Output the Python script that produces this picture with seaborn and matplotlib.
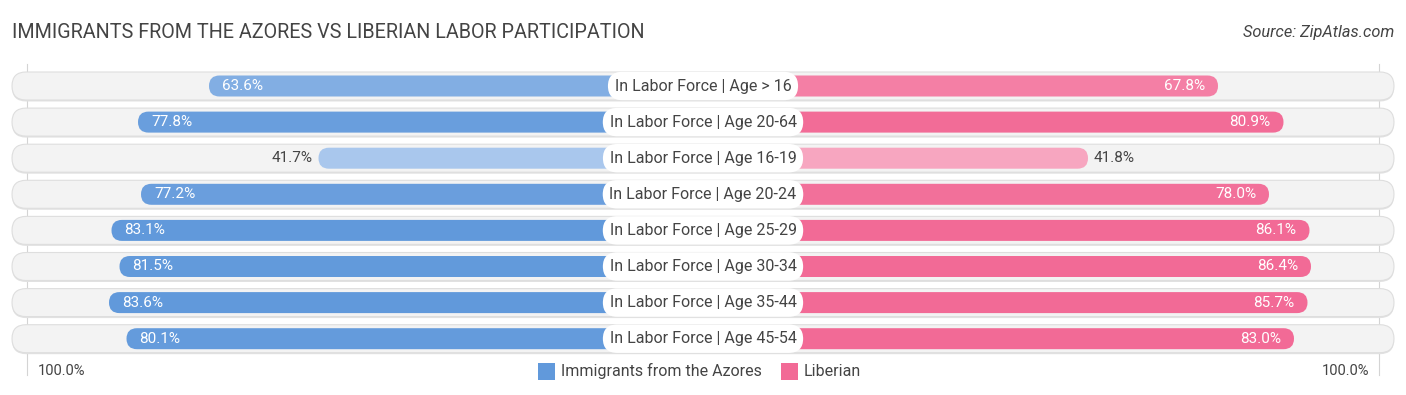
import numpy as np
import pandas as pd
import matplotlib
matplotlib.use("Agg")
import matplotlib.pyplot as plt
import seaborn as sns
from matplotlib.patches import FancyBboxPatch, Rectangle
from matplotlib.colors import to_rgb

# ==========================================
# Data
# ==========================================
categories = [
    "In Labor Force | Age > 16",
    "In Labor Force | Age 20-64",
    "In Labor Force | Age 16-19",
    "In Labor Force | Age 20-24",
    "In Labor Force | Age 25-29",
    "In Labor Force | Age 30-34",
    "In Labor Force | Age 35-44",
    "In Labor Force | Age 45-54",
]
azores = [63.6, 77.8, 41.7, 77.2, 83.1, 81.5, 83.6, 80.1]
liberian = [67.8, 80.9, 41.8, 78.0, 86.1, 86.4, 85.7, 83.0]
series_names = ["Immigrants from the Azores", "Liberian"]

# ==========================================
# Layout / style
# ==========================================
W, H = 1406, 395
PX = 5.0              # pixels per percent
OFFSET = 176 / PX     # bars start behind the centre label
ROW_PX = 36.1
Y0_PX = 86
BLUE_STRONG, BLUE_LIGHT = "#6199db", "#acc9ee"
PINK_STRONG, PINK_LIGHT = "#f26a96", "#f7a9c2"
TEXT = "#444444"

def shade(v, strong, light):
    t = np.clip((v - 40) / 42.0, 0, 1)
    s, l = np.array(to_rgb(strong)), np.array(to_rgb(light))
    return tuple(l + t * (s - l))

plt.rcParams["font.family"] = ["Roboto", "DejaVu Sans"]

fig = plt.figure(figsize=(W / 100, H / 100), dpi=100)
ax = fig.add_axes([0, 0, 1, 1])
xmax = (W / 2) / PX
ylim = ((H - Y0_PX) / ROW_PX, -Y0_PX / ROW_PX)

# mutation aspect so rounded corners are circular in pixels
asp = PX / ROW_PX

df = pd.DataFrame({
    "cat": categories * 2,
    "val": [-(OFFSET + v) for v in azores] + [OFFSET + v for v in liberian],
    "side": ["left"] * len(categories) + ["right"] * len(categories),
})

sns.barplot(data=df, x="val", y="cat", hue="side", orient="h", dodge=False,
            width=21 / ROW_PX, legend=False, ax=ax, zorder=2)
ax.set_xlim(-xmax, xmax)
ax.set_ylim(*ylim)
ax.axis("off")

# replace square bars with rounded ones
for p in list(ax.patches):
    x, y = p.get_x(), p.get_y()
    w, h = p.get_width(), p.get_height()
    p.remove()
    if w == 0 or np.isnan(w):
        continue
    row = int(round(y + h / 2))
    if x < 0 or w < 0:
        left = min(x, x + w)
        col = shade(azores[row], BLUE_STRONG, BLUE_LIGHT)
    else:
        left = x
        col = shade(liberian[row], PINK_STRONG, PINK_LIGHT)
    ax.add_patch(FancyBboxPatch((left, y), abs(w), h,
                                boxstyle=f"round,pad=0,rounding_size={10.5 / PX}",
                                mutation_aspect=asp, fc=col, ec="none", zorder=2))

# background tracks (with a faint shadow)
track_half = (W / 2 - 12) / PX
track_h = 28 / ROW_PX
for i in range(len(categories)):
    ax.add_patch(FancyBboxPatch((-track_half, i - track_h / 2 + 1.5 / ROW_PX), 2 * track_half, track_h,
                                boxstyle=f"round,pad=0,rounding_size={14 / PX}",
                                mutation_aspect=asp, fc="#e2e2e2", ec="none", zorder=0.8))
    ax.add_patch(FancyBboxPatch((-track_half, i - track_h / 2), 2 * track_half, track_h,
                                boxstyle=f"round,pad=0,rounding_size={14 / PX}",
                                mutation_aspect=asp, fc="#f3f3f3", ec="#dedede",
                                lw=0.8, zorder=1))

# faint 100% guide lines
for sgn in (-1, 1):
    ax.plot([sgn * (OFFSET + 100)] * 2, [-0.6, 8.0], color="#d4d4d4", lw=0.8, zorder=0.5)

# value labels
for i, (a, b) in enumerate(zip(azores, liberian)):
    if a > 55:
        ax.text(-(OFFSET + a) + 13 / PX, i, f"{a:.1f}%", ha="left", va="center",
                color="white", fontsize=11, zorder=4)
    else:
        ax.text(-(OFFSET + a) - 6 / PX, i, f"{a:.1f}%", ha="right", va="center",
                color=TEXT, fontsize=11, zorder=4)
    if b > 55:
        ax.text((OFFSET + b) - 13 / PX, i, f"{b:.1f}%", ha="right", va="center",
                color="white", fontsize=11, zorder=4)
    else:
        ax.text((OFFSET + b) + 6 / PX, i, f"{b:.1f}%", ha="left", va="center",
                color=TEXT, fontsize=11, zorder=4)
    # centre label
    ax.text(0, i, categories[i], ha="center", va="center", color=TEXT, fontsize=11.5,
            zorder=6,
            bbox=dict(boxstyle="round,pad=0.42,rounding_size=0.9", fc="white", ec="none"))

# axis end labels
ly = (371 - Y0_PX) / ROW_PX
ax.text(-(W / 2 - 38) / PX, ly, "100.0%", ha="left", va="center", color=TEXT, fontsize=10.5)
ax.text((W / 2 - 37) / PX, ly, "100.0%", ha="right", va="center", color=TEXT, fontsize=10.5)

# legend
sq_h = 17 / ROW_PX
for x0, col, name in [(538, BLUE_STRONG, series_names[0]), (781, PINK_STRONG, series_names[1])]:
    ax.add_patch(Rectangle(((x0 - W / 2) / PX, ly - sq_h / 2), 17 / PX, sq_h, fc=col, ec="none"))
    ax.text((x0 + 23 - W / 2) / PX, ly, name, ha="left", va="center", color=TEXT, fontsize=11.5)

# title and source
fig.text(12 / W, 1 - 33 / H, "IMMIGRANTS FROM THE AZORES VS LIBERIAN LABOR PARTICIPATION",
         ha="left", va="center", color=TEXT, fontsize=14.2)
fig.text(1 - 12 / W, 1 - 33 / H, "Source: ZipAtlas.com", ha="right", va="center",
         color=TEXT, fontsize=11.8, style="italic")

fig.savefig("out.png", dpi=100)
